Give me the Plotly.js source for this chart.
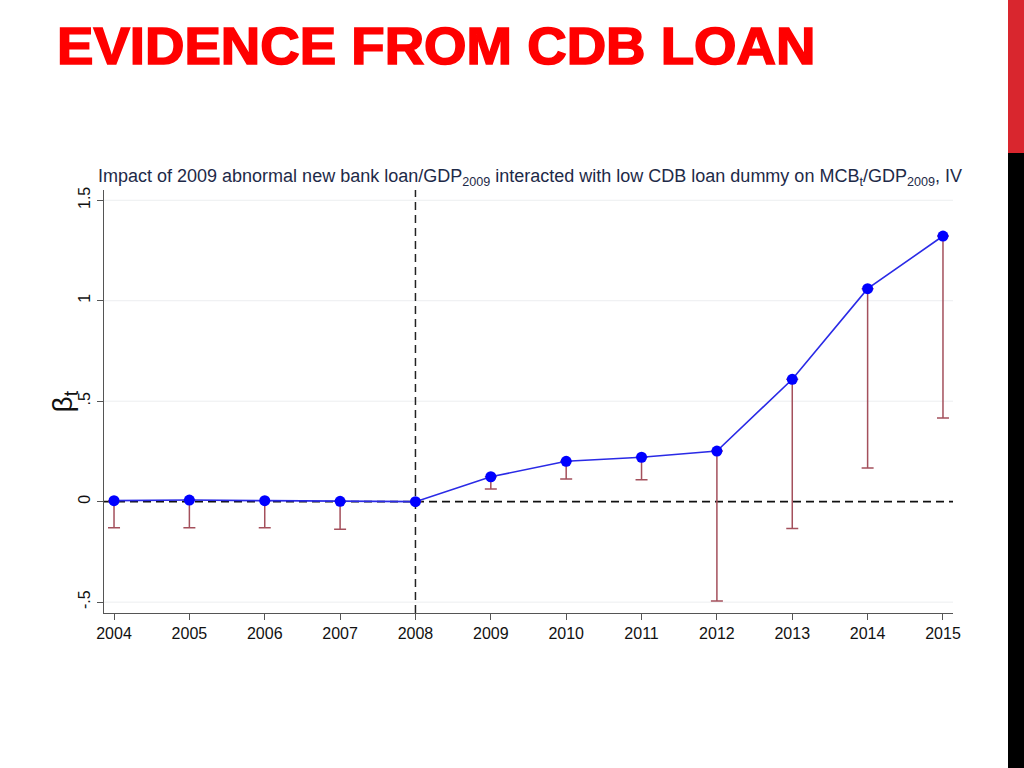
<!DOCTYPE html>
<html>
<head>
<meta charset="utf-8">
<script src="https://cdn.plot.ly/plotly-3.0.1.min.js"></script>
<style>
  html, body { margin: 0; padding: 0; background: #fff; }
  #slide { position: relative; width: 1024px; height: 768px; overflow: hidden; }
  #heading {
    position: absolute; left: 57px; top: 20px; margin: 0;
    font-family: "Liberation Sans", Arial, sans-serif; font-weight: bold;
    font-size: 52px; line-height: 1; color: #ff0000;
    -webkit-text-stroke: 1.6px #ff0000;
    transform: scaleX(1.05); transform-origin: left top;
    white-space: nowrap;
  }
  .bar { position: absolute; left: 1008px; width: 16px; }
  #chart { position: absolute; left: 0; top: 0; width: 1024px; height: 768px; }
</style>
</head>
<body>
<div id="slide">
  <div id="chart"></div>
  <div id="heading">EVIDENCE FROM CDB LOAN</div>
  <div class="bar" style="top:0;height:153px;background:#d9262e;"></div>
  <div class="bar" style="top:153px;height:615px;background:#000;"></div>
</div>
<script>
// years and estimated coefficients
const years = [2004, 2005, 2006, 2007, 2008, 2009, 2010, 2011, 2012, 2013, 2014, 2015];
const beta = [0.005, 0.008, 0.005, 0.002, 0, 0.124, 0.201, 0.221, 0.252, 0.609, 1.060, 1.322];
// lower end of confidence interval (only lower arm is drawn)
const lower = [-0.13, -0.13, -0.13, -0.137, 0, 0.063, 0.113, 0.109, -0.494, -0.134, 0.168, 0.416];
const yTicks = [-0.5, 0, 0.5, 1, 1.5];
const yTickText = ['-.5', '0', '.5', '1', '1.5'];

const minus = beta.map((b, i) => b - lower[i]);

const trace = {
  x: years,
  y: beta,
  type: 'scatter',
  mode: 'lines+markers',
  line: {color: '#2a2ae6', width: 1.6},
  marker: {color: '#0000ff', size: 11},
  error_y: {
    type: 'data',
    symmetric: false,
    array: beta.map(() => 0),
    arrayminus: minus,
    color: '#a4505c',
    thickness: 1.5,
    width: 6
  },
  hoverinfo: 'none'
};

const axisFont = {family: 'Liberation Sans, Arial, sans-serif', size: 16, color: '#111'};

// light grid lines at every y tick except zero (zero gets the dashed reference line)
const gridShapes = yTicks.filter(v => v !== 0).map(v => ({
  type: 'line', xref: 'paper', x0: 0, x1: 1, yref: 'y', y0: v, y1: v,
  line: {color: '#eceef0', width: 1}, layer: 'below'
}));

const layout = {
  width: 1024,
  height: 768,
  paper_bgcolor: 'rgba(0,0,0,0)',
  plot_bgcolor: '#fff',
  showlegend: false,
  margin: {l: 104, r: 71, t: 190, b: 155},
  title: {
    text: 'Impact of 2009 abnormal new bank loan/GDP<sub>2009</sub> interacted with low CDB loan dummy on MCB<sub>t</sub>/GDP<sub>2009</sub>, IV',
    font: {family: 'Liberation Sans, Arial, sans-serif', size: 18, color: '#1e2a48'},
    xref: 'container', x: 98 / 1024, xanchor: 'left',
    yref: 'container', y: 1 - 176 / 768, yanchor: 'middle'
  },
  xaxis: {
    range: [2003.867, 2015.133],
    tickvals: years,
    ticktext: years.map(String),
    showgrid: false,
    zeroline: false,
    showline: true,
    linecolor: '#555',
    linewidth: 1.2,
    ticks: 'outside',
    ticklen: 6,
    tickcolor: '#555',
    tickfont: axisFont
  },
  yaxis: {
    range: [-0.554, 1.551],
    tickvals: yTicks,
    ticktext: yTickText,
    tickangle: -90,
    showgrid: false,
    zeroline: false,
    showline: true,
    linecolor: '#555',
    linewidth: 1.2,
    ticks: 'outside',
    ticklen: 6,
    tickcolor: '#555',
    tickfont: axisFont
  },
  annotations: [
    {text: 'β<sub>t</sub>', xref: 'paper', yref: 'paper', x: -0.046, y: 0.5,
     xanchor: 'center', yanchor: 'middle', textangle: -90, showarrow: false,
     font: {family: 'Liberation Sans, Arial, sans-serif', size: 28, color: '#111'}}
  ],
  shapes: gridShapes.concat([
    {type: 'line', xref: 'paper', x0: 0, x1: 1, yref: 'y', y0: 0, y1: 0,
     line: {color: '#111', width: 1.6, dash: '8px,5px'}, layer: 'below'},
    {type: 'line', xref: 'x', x0: 2008, x1: 2008, yref: 'paper', y0: 0, y1: 1,
     line: {color: '#222', width: 1.5, dash: '8px,5px'}, layer: 'below'}
  ])
};

Plotly.newPlot('chart', [trace], layout, {staticPlot: true});
</script>
</body>
</html>
